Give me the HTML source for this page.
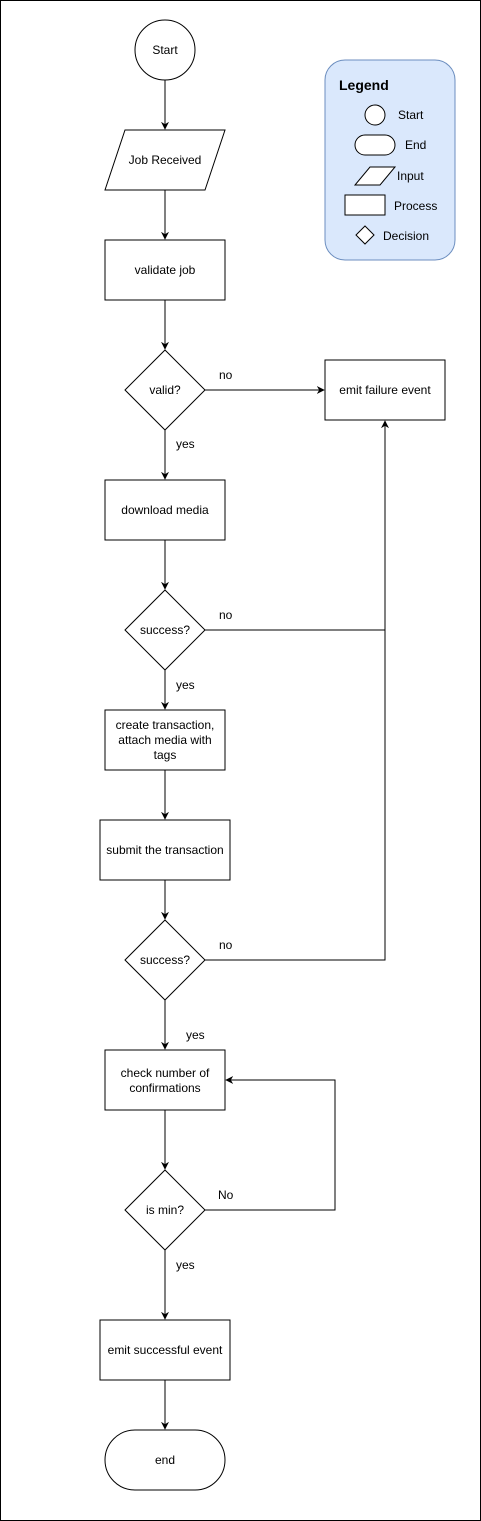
<!DOCTYPE html>
<html><head><meta charset="utf-8"><style>
html,body{margin:0;padding:0;background:#fff}
svg{display:block}
text{font-family:"Liberation Sans",Arial,sans-serif;font-size:12px;fill:#000}
</style></head><body>
<svg width="481" height="1521" viewBox="0 0 481 1521" xmlns="http://www.w3.org/2000/svg">
<defs><marker id="a" viewBox="0 0 10 10" refX="9" refY="5" markerWidth="8" markerHeight="8" orient="auto"><path d="M0,0 L10,5 L0,10 L3,5 Z" fill="#000"/></marker></defs>
<rect x="0.5" y="0.5" width="480" height="1520" fill="#fff" stroke="#000"/>
<g fill="none" stroke="#000" stroke-width="1">
<line x1="165" y1="80" x2="165" y2="129" marker-end="url(#a)"/>
<line x1="165" y1="190" x2="165" y2="239" marker-end="url(#a)"/>
<line x1="165" y1="300" x2="165" y2="349" marker-end="url(#a)"/>
<line x1="205" y1="390" x2="324" y2="390" marker-end="url(#a)"/>
<line x1="165" y1="430" x2="165" y2="479" marker-end="url(#a)"/>
<line x1="165" y1="540" x2="165" y2="589" marker-end="url(#a)"/>
<line x1="165" y1="670" x2="165" y2="709" marker-end="url(#a)"/>
<line x1="165" y1="770" x2="165" y2="819" marker-end="url(#a)"/>
<line x1="165" y1="880" x2="165" y2="919" marker-end="url(#a)"/>
<line x1="165" y1="1000" x2="165" y2="1049" marker-end="url(#a)"/>
<line x1="165" y1="1110" x2="165" y2="1169" marker-end="url(#a)"/>
<line x1="165" y1="1250" x2="165" y2="1319" marker-end="url(#a)"/>
<line x1="165" y1="1380" x2="165" y2="1429" marker-end="url(#a)"/>
<polyline points="205,630 385,630"/>
<polyline points="205,960 385,960 385,421" marker-end="url(#a)"/>
<polyline points="205,1210 335,1210 335,1080 226,1080" marker-end="url(#a)"/>
<circle cx="165" cy="50" r="30" fill="#fff"/>
<polygon points="125,130 225,130 205,190 105,190" fill="#fff"/>
<rect x="105" y="240" width="120" height="60" fill="#fff"/>
<polygon points="165,350 205,390 165,430 125,390" fill="#fff"/>
<rect x="325" y="360" width="120" height="60" fill="#fff"/>
<rect x="105" y="480" width="120" height="60" fill="#fff"/>
<polygon points="165,590 205,630 165,670 125,630" fill="#fff"/>
<rect x="105" y="710" width="120" height="60" fill="#fff"/>
<rect x="100" y="820" width="130" height="60" fill="#fff"/>
<polygon points="165,920 205,960 165,1000 125,960" fill="#fff"/>
<rect x="105" y="1050" width="120" height="60" fill="#fff"/>
<polygon points="165,1170 205,1210 165,1250 125,1210" fill="#fff"/>
<rect x="100" y="1320" width="130" height="60" fill="#fff"/>
<rect x="105" y="1430" width="120" height="60" rx="30" fill="#fff"/>
<rect x="325" y="60" width="130" height="200" rx="20" fill="#dae8fc" stroke="#6c8ebf"/>
<circle cx="375" cy="115" r="10" fill="#fff"/>
<rect x="355" y="135" width="40" height="20" rx="10" fill="#fff"/>
<polygon points="370,167 395,167 380,185 355,185" fill="#fff"/>
<rect x="345" y="195" width="40" height="20" fill="#fff"/>
<polygon points="365,226 374,235 365,244 356,235" fill="#fff"/>
</g>
<g text-anchor="middle">
<text x="165" y="54">Start</text>
<text x="165" y="164">Job Received</text>
<text x="165" y="274">validate job</text>
<text x="165" y="394">valid?</text>
<text x="385" y="394">emit failure event</text>
<text x="165" y="514">download media</text>
<text x="165" y="634">success?</text>
<text x="165" y="729">create transaction,</text>
<text x="165" y="744">attach media with</text>
<text x="165" y="759">tags</text>
<text x="165" y="854">submit the transaction</text>
<text x="165" y="964">success?</text>
<text x="165" y="1077">check number of</text>
<text x="165" y="1092">confirmations</text>
<text x="165" y="1214">is min?</text>
<text x="165" y="1354">emit successful event</text>
<text x="165" y="1464">end</text>
</g>
<text x="219" y="379">no</text>
<text x="219" y="619">no</text>
<text x="219" y="949">no</text>
<text x="218" y="1199">No</text>
<text x="176" y="448">yes</text>
<text x="176" y="689">yes</text>
<text x="186" y="1039">yes</text>
<text x="176" y="1269">yes</text>
<text x="339" y="90" style="font-weight:bold;font-size:14px">Legend</text>
<text x="398" y="119">Start</text>
<text x="405" y="149">End</text>
<text x="397" y="180">Input</text>
<text x="394" y="210">Process</text>
<text x="383" y="240">Decision</text>
</svg>
</body></html>
